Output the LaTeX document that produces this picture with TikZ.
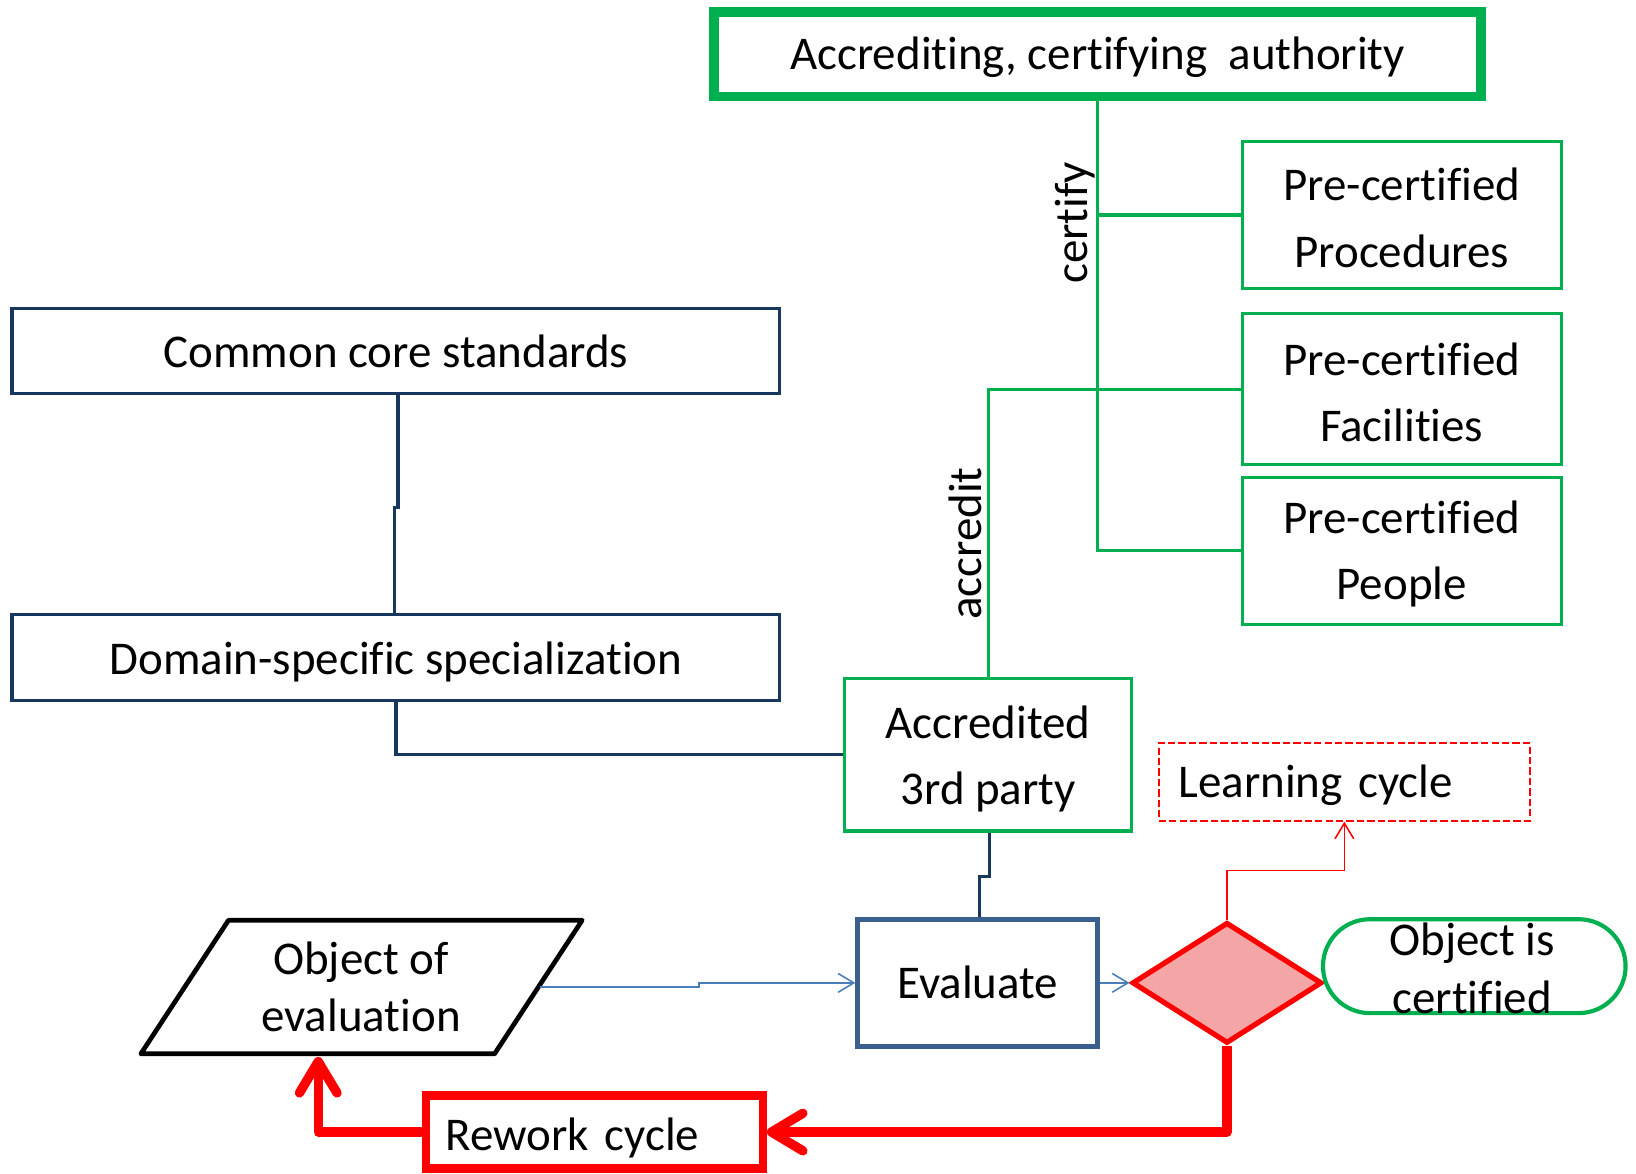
\documentclass[tikz,border=0pt]{standalone}
\usepackage{fontspec}
\setmainfont{Carlito}[Ligatures=NoCommon]
\usetikzlibrary{arrows.meta,shapes.geometric,calc}

\definecolor{cgreen}{HTML}{00B050}
\definecolor{navy}{HTML}{17375E}
\definecolor{evalblue}{HTML}{3A5F8E}
\definecolor{linkblue}{HTML}{4A7EBB}
\definecolor{decfill}{HTML}{F4A6A6}

% lower a line of text inside its node without changing the node's size
\newcommand\dn[2]{\raisebox{-#1pt}[\height][\depth]{#2}}

\begin{document}
\begin{tikzpicture}[x=1pt,y=-1pt,
  every node/.style={font=\fontsize{45}{64}\selectfont},
  gbox/.style={draw=cgreen, line width=3pt, minimum width=306pt,
               minimum height=141pt, align=center, inner sep=0pt},
  nbox/.style={draw=navy, line width=3pt, minimum width=736pt,
               minimum height=82pt, inner sep=0pt},
  gline/.style={draw=cgreen, line width=3pt},
  nline/.style={draw=navy, line width=3pt},
  thinblue/.style={draw=linkblue, line width=1.5pt,
                   -{Straight Barb[length=15pt,width=18pt]}},
  thinred/.style={draw=red, line width=1.5pt,
                  -{Straight Barb[length=15pt,width=18pt]}},
  reworkline/.style={draw=red, line width=9pt, line join=round,
                     -{Straight Barb[length=30pt,width=36pt,round]}},
  twoline/.style={align=center, font=\fontsize{45}{55}\selectfont, inner sep=0pt}
]
\useasboundingbox (0,0) rectangle (1568,1125);

% authority and certified resources
\node[draw=cgreen, line width=9pt, minimum width=735pt, minimum height=81pt,
      inner sep=0pt] (auth) at (1052,52) {\dn{3}{Accrediting, certifying\ \ authority}};
\node[gbox] (proc) at (1343.5,206) {\dn{3}{Pre-certified}\\\dn{3}{Procedures}};
\node[gbox, minimum height=145pt] (fac) at (1343.5,373) {\dn{3}{Pre-certified}\\\dn{3}{Facilities}};
\node[gbox] (ppl) at (1343.5,528) {\dn{3}{Pre-certified}\\\dn{3}{People}};

% standards
\node[nbox] (core) at (379.5,336.5) {Common core standards};
\node[nbox] (dom) at (379.5,630) {\dn{4}{Domain-specific specialization}};

% third party and evaluation
\node[gbox, minimum width=275pt, minimum height=146pt] (acc) at (947,723.5)
      {\dn{4}{Accredited}\\\dn{4}{3rd party}};
\node[draw=evalblue, line width=4.5pt, minimum width=230pt, minimum height=122pt,
      inner sep=0pt] (eval) at (937,942) {Evaluate};
\node[diamond, draw=red, fill=decfill, line width=5pt, minimum width=182pt,
      minimum height=116pt, inner sep=0pt] (dec) at (1176,942) {};
\node[draw=cgreen, line width=4pt, rounded corners=45pt, minimum width=290pt,
      minimum height=90pt, inner sep=0pt] (done) at (1413,926) {};
\node[twoline] (donetext) at (1411,928) {Object is\\certified};

\node[draw=red, dash pattern=on 7pt off 3pt, line width=2pt, text width=318pt,
      inner xsep=19pt, inner ysep=0pt, minimum height=74pt, align=left]
      (learn) at (1288.5,749.5) {\dn{3}{Learning cycle}};
\node[draw=red, line width=8pt, text width=285pt, inner xsep=19pt, inner ysep=0pt,
      minimum height=70pt, align=left] (rework) at (569.5,1085) {\dn{6}{Rework cycle}};

% object of evaluation (parallelogram)
\coordinate (pTL) at (219,882);
\coordinate (pTR) at (558,882);
\coordinate (pBR) at (474,1010);
\coordinate (pBL) at (135,1010);
\draw[black, line width=4.5pt, line join=round] (pTL) -- (pTR) -- (pBR) -- (pBL) -- cycle;
\node[twoline] (objtext) at (346,946) {Object of\\evaluation};
\coordinate (objE) at (518,946);
\coordinate (objS) at (305,1013);

% certification tree
\draw[gline] (auth.south) |- (ppl.west);
\draw[gline] (auth.south |- proc.west) -- (proc.west);
\draw[gline] (auth.south |- fac.west) -- (fac.west);
\draw[gline] (auth.south |- fac.west) -| (acc.north);
\node[rotate=90, anchor=base, inner sep=0pt] (certlbl) at (1042,213.5) {certify};
\node[rotate=90, anchor=base, inner sep=0pt] (accrlbl) at (941,521) {accredit};

% standards chain
\draw[nline] ([xshift=2pt]core.south) -- ++(0,107) -| ([xshift=-1pt]dom.north);
\draw[nline] (dom.south) |- (acc.west);
\draw[nline] ([xshift=1pt]acc.south) -- ++(0,42) -| ([xshift=2pt]eval.north);

% evaluation flow
\draw[thinblue] (objE) -- ++(152,0) |- (eval.west);
\draw[thinblue] (eval.east) -- (dec.west);
\draw[thinred] (dec.north) -- ++(0,-47) -| (learn.south);
\draw[reworkline] (dec.south) |- (rework.east);
\draw[reworkline] (rework.west) -| (objS);
\end{tikzpicture}
\end{document}
